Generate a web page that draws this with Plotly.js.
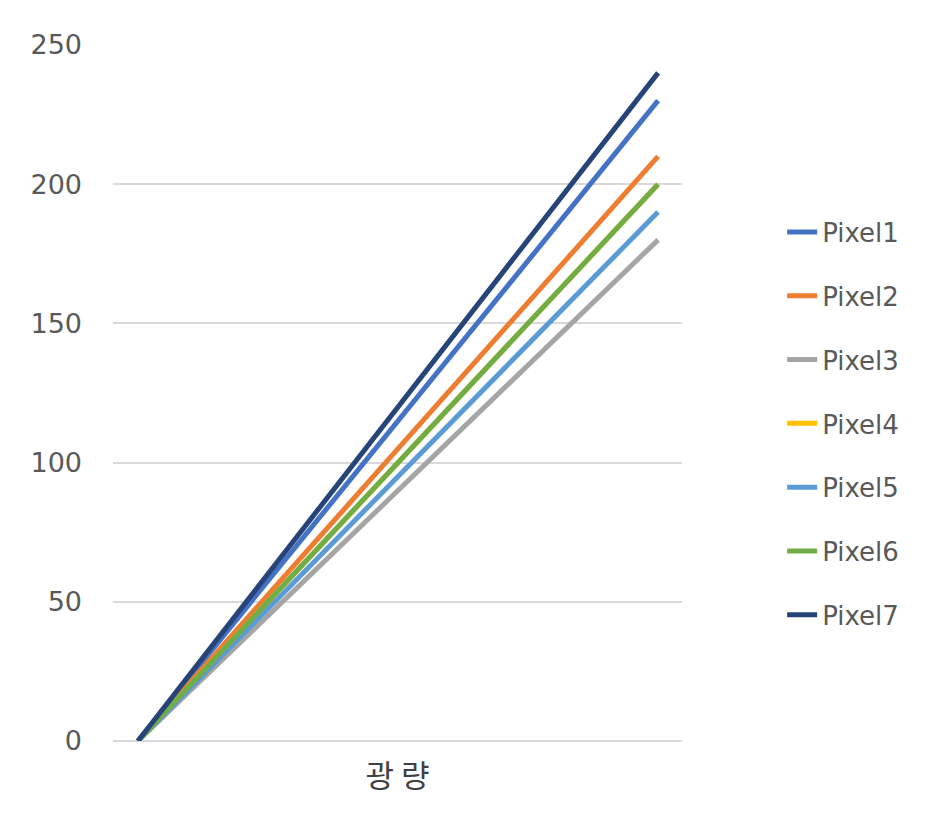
<!DOCTYPE html>
<html>
<head>
<meta charset="utf-8">
<script src="https://cdn.plot.ly/plotly-3.0.1.min.js"></script>
<style>
  html, body { margin: 0; padding: 0; background: #ffffff; }
  #chart { width: 932px; height: 820px; }
</style>
</head>
<body>
<div id="chart"></div>
<script>
// ---- data ----
const xPoints = [0, 1];
const seriesNames = ["Pixel1", "Pixel2", "Pixel3", "Pixel4", "Pixel5", "Pixel6", "Pixel7"];
const pixel1 = [0, 230];
const pixel2 = [0, 210];
const pixel3 = [0, 180];
const pixel4 = [0, 200];
const pixel5 = [0, 190];
const pixel6 = [0, 200];
const pixel7 = [0, 240];
const yTickValues = [0, 50, 100, 150, 200, 250];
const xAxisTitle = "광 량";

// ---- styles ----
const seriesValues = [pixel1, pixel2, pixel3, pixel4, pixel5, pixel6, pixel7];
const seriesColors = ["#4472C4", "#ED7D31", "#A5A5A5", "#FFC000", "#5B9BD5", "#70AD47", "#264478"];

const traces = seriesNames.map((name, i) => ({
  type: "scatter",
  mode: "lines",
  name: name,
  x: xPoints,
  y: seriesValues[i],
  legendgroup: name,
  line: { color: seriesColors[i], width: 5 },
  hoverinfo: "skip"
}));

const layout = {
  width: 932,
  height: 820,
  paper_bgcolor: "#ffffff",
  plot_bgcolor: "#ffffff",
  margin: { l: 113, r: 250, t: 45, b: 79, pad: 0 },
  font: { family: "DejaVu Sans, Noto Sans CJK KR", color: "#595959", size: 26 },
  showlegend: true,
  legend: {
    x: 1.176, xanchor: "left",
    y: 0.765, yanchor: "top",
    font: { size: 26, color: "#595959" },
    tracegroupgap: 27,
    bgcolor: "rgba(0,0,0,0)"
  },
  xaxis: {
    range: [-0.048, 1.046],
    showgrid: false,
    zeroline: false,
    showticklabels: false,
    showline: false,
    ticks: "",
    title: { text: xAxisTitle, standoff: 24, font: { family: "Noto Sans CJK KR", size: 31, color: "#404040" } }
  },
  yaxis: {
    range: [0, 250],
    tickvals: yTickValues,
    ticktext: yTickValues.map(String),
    showgrid: true,
    gridcolor: "#d9d9d9",
    gridwidth: 2,
    zeroline: true,
    zerolinecolor: "#d9d9d9",
    zerolinewidth: 2,
    showline: false,
    ticks: "",
    ticklabelstandoff: 30,
    tickfont: { size: 27, color: "#595959" }
  }
};

Plotly.newPlot("chart", traces, layout, { displayModeBar: false, staticPlot: true });
</script>
</body>
</html>
